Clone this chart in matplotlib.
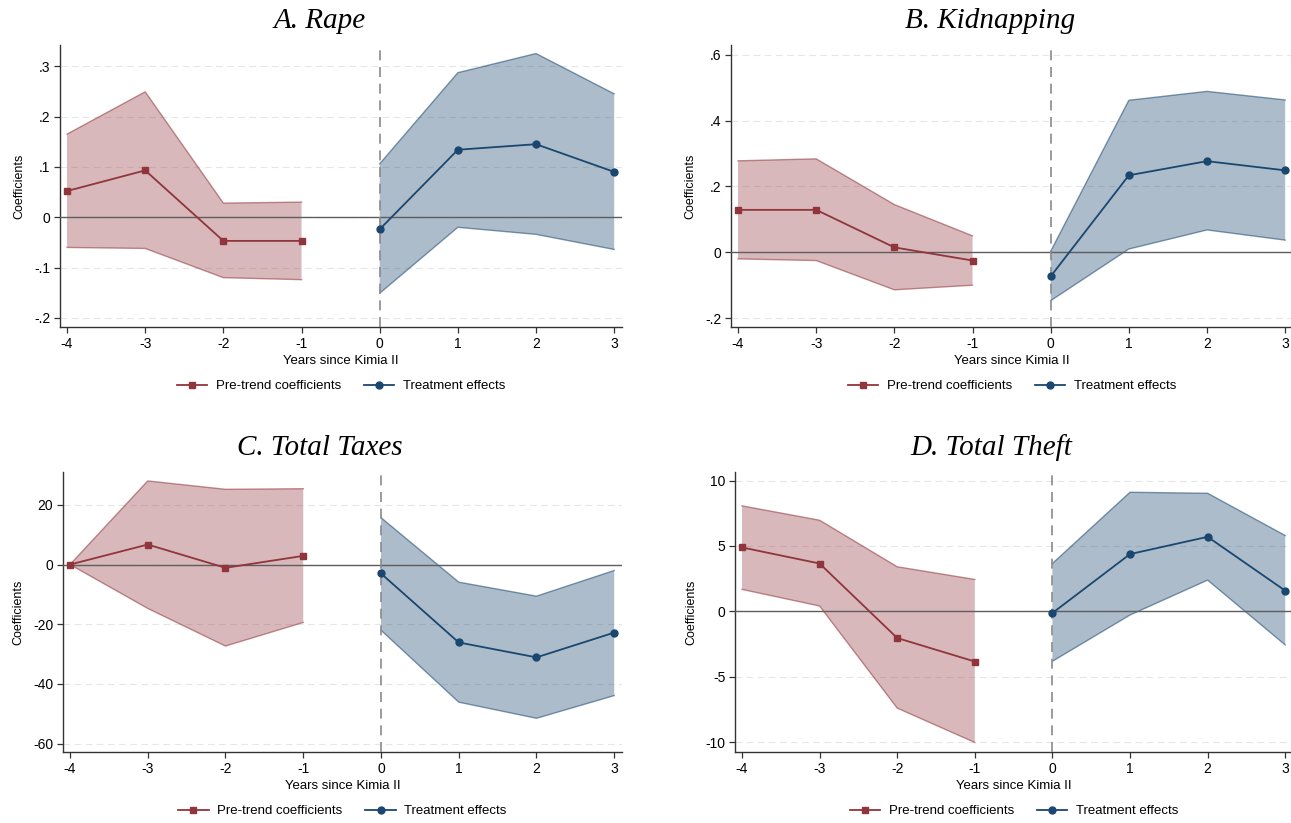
import matplotlib
matplotlib.use("Agg")
import matplotlib.pyplot as plt
import numpy as np
from matplotlib.lines import Line2D

plt.rcParams['font.family'] = ['Liberation Sans', 'DejaVu Sans']
plt.rcParams['axes.unicode_minus'] = False

# event time
pre_years = [-4, -3, -2, -1]
post_years = [0, 1, 2, 3]

# A. Rape
rape_pre = [0.052, 0.093, -0.047, -0.047]
rape_pre_hi = [0.165, 0.249, 0.028, 0.030]
rape_pre_lo = [-0.060, -0.062, -0.120, -0.124]
rape_post = [-0.024, 0.134, 0.145, 0.090]
rape_post_hi = [0.106, 0.287, 0.325, 0.245]
rape_post_lo = [-0.151, -0.020, -0.034, -0.064]

# B. Kidnapping
kid_pre = [0.129, 0.129, 0.015, -0.025]
kid_pre_hi = [0.278, 0.284, 0.145, 0.050]
kid_pre_lo = [-0.020, -0.025, -0.114, -0.100]
kid_post = [-0.073, 0.234, 0.277, 0.249]
kid_post_hi = [0.003, 0.462, 0.489, 0.463]
kid_post_lo = [-0.147, 0.010, 0.068, 0.037]

# C. Total Taxes
tax_pre = [0.0, 6.7, -1.1, 2.9]
tax_pre_hi = [0.0, 28.0, 25.2, 25.4]
tax_pre_lo = [0.0, -14.7, -27.3, -19.4]
tax_post = [-3.0, -26.1, -31.1, -22.8]
tax_post_hi = [15.7, -5.9, -10.6, -2.0]
tax_post_lo = [-22.0, -46.1, -51.5, -43.9]

# D. Total Theft
theft_pre = [4.89, 3.66, -2.04, -3.84]
theft_pre_hi = [8.07, 6.97, 3.41, 2.44]
theft_pre_lo = [1.68, 0.41, -7.40, -10.03]
theft_post = [-0.13, 4.38, 5.70, 1.58]
theft_post_hi = [3.66, 9.11, 9.03, 5.80]
theft_post_lo = [-3.82, -0.28, 2.39, -2.57]

titles = ["A. Rape", "B. Kidnapping", "C. Total Taxes", "D. Total Theft"]
yticks = [
    [-0.2, -0.1, 0, 0.1, 0.2, 0.3],
    [-0.2, 0, 0.2, 0.4, 0.6],
    [-60, -40, -20, 0, 20],
    [-10, -5, 0, 5, 10],
]
ytick_labels = [
    ["-.2", "-.1", "0", ".1", ".2", ".3"],
    ["-.2", "0", ".2", ".4", ".6"],
    ["-60", "-40", "-20", "0", "20"],
    ["-10", "-5", "0", "5", "10"],
]
ylims = [(-0.218, 0.342), (-0.227, 0.63), (-62.8, 31.0), (-10.76, 10.66)]
xticks = [-4, -3, -2, -1, 0, 1, 2, 3]

RED = "#90353B"
BLUE = "#1A476F"

W, H = 1291, 823
fig = plt.figure(figsize=(W / 100, H / 100), dpi=100)

# axes boxes in pixels: left, top, right, bottom
boxes = [(60, 45, 622, 327), (731, 45, 1293, 327),
         (63, 472, 622, 752), (735, 472, 1293, 752)]
title_pos = [(320, 28), (990, 28), (320, 455), (991, 455)]

panels = [
    (rape_pre, rape_pre_hi, rape_pre_lo, rape_post, rape_post_hi, rape_post_lo),
    (kid_pre, kid_pre_hi, kid_pre_lo, kid_post, kid_post_hi, kid_post_lo),
    (tax_pre, tax_pre_hi, tax_pre_lo, tax_post, tax_post_hi, tax_post_lo),
    (theft_pre, theft_pre_hi, theft_pre_lo, theft_post, theft_post_hi, theft_post_lo),
]

for i, (pre, pre_hi, pre_lo, post, post_hi, post_lo) in enumerate(panels):
    l, t, r, b = boxes[i]
    ax = fig.add_axes([l / W, 1 - b / H, (r - l) / W, (b - t) / H])

    # light dashed grid
    for yv in yticks[i]:
        ax.axhline(yv, color="#E6E6E6", lw=0.8, ls=(0, (6, 4)), zorder=0)

    ax.fill_between(pre_years, pre_lo, pre_hi, facecolor=RED, alpha=0.35,
                    edgecolor="none", zorder=1)
    ax.plot(pre_years, pre_hi, color=RED, alpha=0.55, lw=1, zorder=2)
    ax.plot(pre_years, pre_lo, color=RED, alpha=0.55, lw=1, zorder=2)
    ax.fill_between(post_years, post_lo, post_hi, facecolor=BLUE, alpha=0.36,
                    edgecolor="none", zorder=1)
    ax.plot(post_years, post_hi, color=BLUE, alpha=0.55, lw=1, zorder=2)
    ax.plot(post_years, post_lo, color=BLUE, alpha=0.55, lw=1, zorder=2)

    ax.axhline(0, color="#5E5E5E", lw=1, zorder=3)
    ax.axvline(0, color="#8A8A8A", lw=1.2, ls=(0, (6, 4)), zorder=3)

    ax.plot(pre_years, pre, color=RED, lw=1.3, marker="s", ms=5, zorder=4)
    ax.plot(post_years, post, color=BLUE, lw=1.3, marker="o", ms=5, zorder=4)

    ax.set_xlim(-4.09, 3.1)
    ax.set_ylim(*ylims[i])
    ax.set_xticks(xticks)
    ax.set_yticks(yticks[i])
    ax.set_yticklabels(ytick_labels[i])
    ax.tick_params(labelsize=10, color="#333333", length=4, width=0.9, pad=3)
    for s in ["top", "right"]:
        ax.spines[s].set_visible(False)
    for s in ["left", "bottom"]:
        ax.spines[s].set_color("#333333")
        ax.spines[s].set_linewidth(1.0)
    ax.set_xlabel("Years since Kimia II", fontsize=9.5, labelpad=3)
    ax.set_ylabel("Coefficients", fontsize=9, labelpad=6)

    handles = [
        Line2D([0], [0], color=RED, lw=1.3, marker="s", ms=5),
        Line2D([0], [0], color=BLUE, lw=1.3, marker="o", ms=5),
    ]
    ax.legend(handles, ["Pre-trend coefficients", "Treatment effects"],
              loc="center", bbox_to_anchor=(0.5, -59 / (b - t)), ncol=2,
              frameon=False, fontsize=9.5, handlelength=2.3,
              columnspacing=1.75, handletextpad=0.65)

    tx, ty = title_pos[i]
    fig.text(tx / W, 1 - ty / H, titles[i], ha="center", va="baseline",
             fontsize=21, family=["Liberation Serif", "DejaVu Serif"], style="italic")

fig.savefig("out.png", dpi=100, facecolor="white")
